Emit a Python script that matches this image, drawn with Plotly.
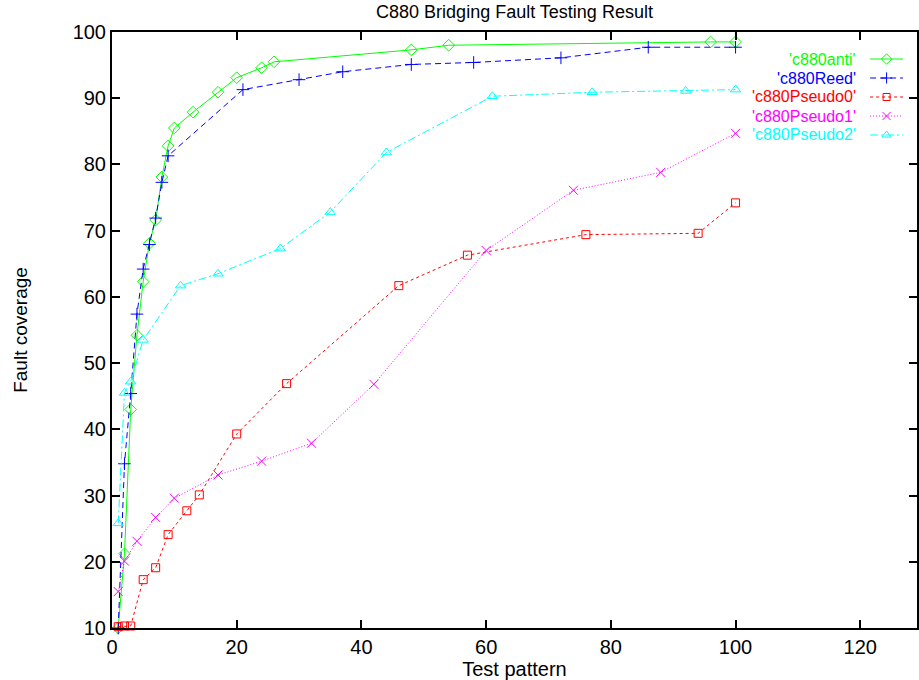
import plotly.graph_objects as go

# ---------------- data ----------------
anti_x = [1, 2, 3, 4, 5, 6, 7, 8, 9, 10, 13, 17, 20, 24, 26, 48, 54, 96, 100]
anti_y = [10, 21.2, 43.0, 54.2, 62.3, 68.1, 71.6, 78.1, 82.8, 85.5, 87.9, 90.9, 93.1, 94.6, 95.5, 97.3, 98.0, 98.5, 98.5]

reed_x = [1, 2, 3, 4, 5, 6, 7, 8, 9, 21, 30, 37, 48, 58, 72, 86, 100]
reed_y = [10, 34.8, 45.4, 57.4, 64.2, 67.9, 71.9, 77.3, 81.3, 91.3, 92.8, 94.0, 95.1, 95.4, 96.1, 97.7, 97.7]

p0_x = [1, 2, 3, 5, 7, 9, 12, 14, 20, 28, 46, 57, 76, 94, 100]
p0_y = [10.2, 10.3, 10.3, 17.3, 19.1, 24.1, 27.7, 30.1, 39.3, 46.9, 61.7, 66.3, 69.4, 69.6, 74.2]

p1_x = [1, 2, 4, 7, 10, 17, 24, 32, 42, 60, 74, 88, 100]
p1_y = [15.5, 20.1, 23.1, 26.7, 29.6, 33.1, 35.2, 37.9, 46.8, 67.0, 76.1, 78.8, 84.7]

p2_x = [1, 2, 3, 5, 11, 17, 27, 35, 44, 61, 77, 92, 100]
p2_y = [25.8, 45.5, 47.2, 53.5, 61.7, 63.5, 67.3, 72.8, 81.8, 90.3, 90.9, 91.1, 91.3]

series_names = ["'c880anti'", "'c880Reed'", "'c880Pseudo0'", "'c880Pseudo1'", "'c880Pseudo2'"]
x_ticks = [0, 20, 40, 60, 80, 100, 120]
y_ticks = [10, 20, 30, 40, 50, 60, 70, 80, 90, 100]

# ---------------- styles ----------------
W, H = 919, 680
ML, MR, MT, MB = 112, 0, 32, 52
XMAX = 129.1
YMIN, YMAX = 10, 100
FONT = "Liberation Sans, Arial, sans-serif"

styles = [
    dict(color="#00ff00", dash="solid", symbol="diamond-open", size=9),
    dict(color="#0000ff", dash="6px,4px", symbol="cross-thin-open", size=9),
    dict(color="#ff0000", dash="3px,3px", symbol="square-open", size=8),
    dict(color="#ff00ff", dash="1px,2px", symbol="x-thin-open", size=9),
    dict(color="#00ffff", dash="8px,3px,2px,3px", symbol="triangle-up-open", size=9),
]
data = [(anti_x, anti_y), (reed_x, reed_y), (p0_x, p0_y), (p1_x, p1_y), (p2_x, p2_y)]

fig = go.Figure()
for (xs, ys), st, nm in zip(data, styles, series_names):
    fig.add_trace(go.Scatter(
        x=xs, y=ys, mode="lines+markers", name=nm, showlegend=False,
        line=dict(color=st["color"], dash=st["dash"], width=1),
        marker=dict(symbol=st["symbol"], size=st["size"], color=st["color"],
                    line=dict(width=1, color=st["color"])),
        cliponaxis=False,
    ))

# ---------------- custom gnuplot-style key (text right, sample on right) ----------------
pw = W - ML - MR
ph = H - MT - MB
def px_to_x(px):
    return (px - ML) / pw * XMAX
def py_to_y(py):
    return YMIN + (H - MB - py) / ph * (YMAX - YMIN)

KEY_TEXT_RIGHT = 859
KEY_LINE_L, KEY_LINE_R = 872, 905
KEY_ROW0, KEY_ROW_STEP = 59, 19
for i, (nm, st) in enumerate(zip(series_names, styles)):
    ry = py_to_y(KEY_ROW0 + i * KEY_ROW_STEP)
    fig.add_trace(go.Scatter(
        x=[px_to_x(KEY_LINE_L), px_to_x(KEY_LINE_R)], y=[ry, ry], mode="lines",
        line=dict(color=st["color"], dash=st["dash"], width=1),
        showlegend=False, hoverinfo="skip", cliponaxis=False))
    fig.add_trace(go.Scatter(
        x=[px_to_x((KEY_LINE_L + KEY_LINE_R) / 2)], y=[ry], mode="markers",
        marker=dict(symbol=st["symbol"], size=st["size"] - 1, color=st["color"],
                    line=dict(width=1, color=st["color"])),
        showlegend=False, hoverinfo="skip", cliponaxis=False))
    fig.add_annotation(
        x=(KEY_TEXT_RIGHT - ML) / pw, y=1 - (KEY_ROW0 + i * KEY_ROW_STEP - MT) / ph,
        xref="paper", yref="paper", xanchor="right", yanchor="middle",
        text=nm, showarrow=False, borderpad=0,
        font=dict(family=FONT, size=16, color=st["color"]))

axis_common = dict(
    showgrid=False, zeroline=False, showline=True, linecolor="black", linewidth=2,
    ticks="inside", ticklen=8, tickwidth=1.5, tickcolor="black", mirror="ticks",
    tickfont=dict(family=FONT, size=20, color="black"),
)

fig.update_layout(
    width=W, height=H,
    margin=dict(l=ML, r=MR, t=MT, b=MB, pad=0),
    paper_bgcolor="white", plot_bgcolor="white",
    showlegend=False,
    title=dict(text="C880 Bridging Fault Testing Result", x=0.5, xref="paper",
               y=1 - 12 / H, yref="container", yanchor="middle", xanchor="center",
               font=dict(family=FONT, size=18, color="black")),
    xaxis=dict(range=[0, XMAX], tickvals=x_ticks, ticktext=[str(v) for v in x_ticks],
               title=dict(text="Test pattern", standoff=0,
                          font=dict(family=FONT, size=20, color="black")),
               **axis_common),
    yaxis=dict(range=[YMIN, YMAX], tickvals=y_ticks, ticktext=[str(v) for v in y_ticks],
               title=dict(text="Fault coverage", standoff=40,
                          font=dict(family=FONT, size=19, color="black")),
               **axis_common),
)

fig.write_html("out.html")
